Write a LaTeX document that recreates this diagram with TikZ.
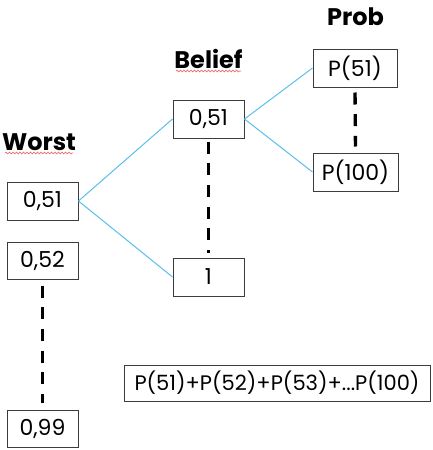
\documentclass[tikz,border=0pt]{standalone}
\usepackage{fontspec}
\setmainfont{Poppins}
\usetikzlibrary{decorations.pathmorphing}
\definecolor{lineblue}{RGB}{90,190,235}
\definecolor{boxgray}{RGB}{60,60,60}
\definecolor{squigred}{RGB}{235,110,110}
\begin{document}
\begin{tikzpicture}[x=1pt,y=-1pt,
  box/.style={draw=boxgray, line width=1pt, inner sep=0pt, minimum height=38pt, font=\fontsize{22}{26}\selectfont},
  link/.style={draw=lineblue, line width=1pt},
  dashline/.style={draw=black, line width=3.4pt, dash pattern=on 12pt off 9.7pt},
  title/.style={font=\fontsize{24}{28}\selectfont\bfseries, inner sep=0pt, anchor=base},
  squiggle/.style={draw=squigred, line width=0.7pt, decorate, decoration={snake, amplitude=0.9pt, segment length=3.5pt}}]
\useasboundingbox (0,0) rectangle (433,450);
% titles
\node[title] (tworst) at (39,150) {Worst};
\node[title] (tbelief) at (208.5,68) {Belief};
\node[title] (tprob) at (355.5,25) {Prob};
\draw[squiggle] (5,153) -- (73,153);
\draw[squiggle] (176,71) -- (241,71);
% boxes
\node[box, minimum width=84pt] (p51) at (355,68) {P(51)};
\node[box, minimum width=85pt] (p100) at (355.5,172) {P(100)};
\node[box, minimum width=71pt] (b051) at (208.5,119) {0,51};
\node[box, minimum width=71pt] (b1) at (208.5,277) {1};
\node[box, minimum width=71pt] (w051) at (42.5,201) {0,51};
\node[box, minimum width=71pt, minimum height=37pt] (w052) at (42.5,260.5) {0,52};
\node[box, minimum width=71pt, minimum height=37pt] (w099) at (42.5,428.5) {0,99};
\node[box, minimum width=306pt, minimum height=36pt, font=\fontsize{21}{25}\selectfont] (sum) at (277,383) {P(51)+P(52)+P(53)+...P(100)};
% blue links
\draw[link] (w051.east) -- (b051.west);
\draw[link] (w051.east) -- (b1.west);
\draw[link] (b051.east) -- (p51.west);
\draw[link] (b051.east) -- (p100.west);
% dashed
\draw[dashline] ([yshift=-3pt]b051.south) -- ([yshift=5pt]b1.north);
\draw[dashline] ([yshift=-5pt]p51.south) -- ([yshift=6pt]p100.north);
\draw[dashline] ([yshift=-6pt]w052.south) -- ([yshift=7pt]w099.north);
\end{tikzpicture}
\end{document}
